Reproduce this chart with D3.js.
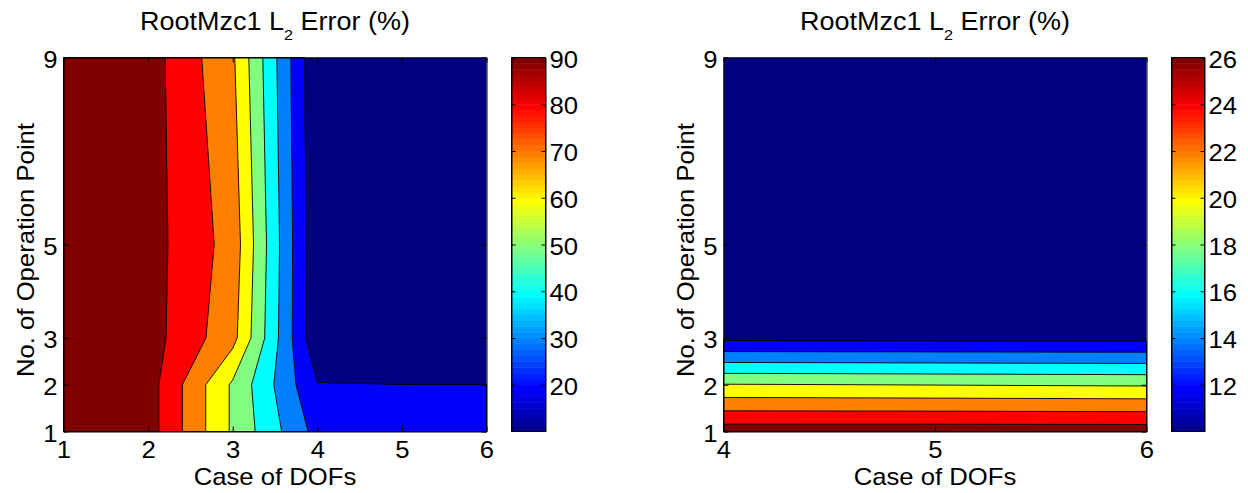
<!DOCTYPE html>
<html><head><meta charset="utf-8">
<script src="https://cdn.jsdelivr.net/npm/d3@7"></script>
<style>
body{margin:0;background:#fff}
svg text{font-family:"Liberation Sans", Arial, sans-serif; fill:#000}
</style>
</head><body>
<svg id="c" width="1248" height="493"></svg>
<script>
// ---------------- data ----------------
const titleText = "RootMzc1 L";
const titleSub = "2";
const titleTail = " Error (%)";
const xLabel = "Case of DOFs";
const yLabel = "No. of Operation Point";

// left panel: error grid, rows = operation points, columns = DOF cases
const leftX = [1, 2, 3, 4, 5, 6];
const leftY = [1, 2, 3, 5, 9];
const leftZ = [
  [96.5, 94.6, 58.5, 26.5, 24.2, 23.6],
  [96.0, 94.6, 58.5, 20.4, 20.05, 20.02],
  [95.5, 94.5, 73.3, 11.7, 10.9, 10.6],
  [95.2, 94.3, 76.0, 11.0, 10.6, 10.4],
  [95.0, 94.7, 71.5, 11.1, 10.5, 10.3]
];
const leftLevels = [20, 30, 40, 50, 60, 70, 80, 90];
const leftCRange = [10, 90];
const leftCTicks = [20, 30, 40, 50, 60, 70, 80, 90];
const leftXTicks = [1, 2, 3, 4, 5, 6];
const leftYTicks = [1, 2, 3, 5, 9];

// right panel
const rightX = [4, 5, 6];
const rightY = [1, 2, 3, 5, 9];
const rightZ = [
  [27.1, 27.12, 27.1],
  [20.1, 19.95, 19.8],
  [11.5, 11.48, 11.45],
  [10.5, 10.45, 10.4],
  [10.25, 10.22, 10.2]
];
const rightLevels = [12, 14, 16, 18, 20, 22, 24, 26];
const rightCRange = [10, 26];
const rightCTicks = [12, 14, 16, 18, 20, 22, 24, 26];
const rightXTicks = [4, 5, 6];
const rightYTicks = [1, 2, 3, 5, 9];

// ---------------- drawing ----------------
const SX = 1.07, FS = 24;
const TOP = 57.5, BOTTOM = 431.5;
const svg = d3.select('#c');

function jet(t) {
  const c = v => Math.max(0, Math.min(1, v));
  return d3.rgb(255 * c(1.5 - Math.abs(4 * t - 3)),
                255 * c(1.5 - Math.abs(4 * t - 2)),
                255 * c(1.5 - Math.abs(4 * t - 1))).toString();
}

function styleAxis(sel) {
  sel.attr('font-size', FS).attr('font-family', '"Liberation Sans", Arial, sans-serif');
  sel.selectAll('.domain').attr('stroke', '#000').attr('stroke-width', 1);
  sel.selectAll('.tick line').attr('stroke', '#000').attr('stroke-width', 1);
  sel.selectAll('text').attr('fill', '#000');
}

function panel(p) {
  const g = svg.append('g');
  const x = d3.scaleLinear().domain(d3.extent(p.xs)).range([p.left, p.right]);
  const y = d3.scaleLinear().domain(d3.extent(p.ys)).range([BOTTOM, TOP]);
  const color = d3.scaleSequential(jet).domain(p.cRange);
  const gx = d3.scaleLinear().domain(d3.range(p.xs.length)).range(p.xs).clamp(true);
  const gy = d3.scaleLinear().domain(d3.range(p.ys.length)).range(p.ys).clamp(true);
  const proj = d3.geoTransform({
    point: function (a, b) { this.stream.point(x(gx(a - 0.5)), y(gy(b - 0.5))); }
  });
  const path = d3.geoPath(proj);
  const cont = d3.contours().size([p.xs.length, p.ys.length]).thresholds(p.levels)(p.z.flat());

  g.append('rect').attr('x', p.left).attr('y', TOP)
    .attr('width', p.right - p.left).attr('height', BOTTOM - TOP)
    .attr('fill', color(p.cRange[0]));
  g.selectAll('path.band').data(cont).join('path').attr('class', 'band')
    .attr('d', d => path(d) || '')
    .attr('fill', d => color(d.value))
    .attr('stroke', '#000').attr('stroke-width', 0.9).attr('stroke-linejoin', 'round');

  // axes (ticks inside, box)
  const fmt = d3.format('d');
  const bx = g.append('g').attr('transform', `translate(0,${BOTTOM})`)
    .call(d3.axisBottom(x).tickValues(p.xTicks).tickSizeInner(-5).tickSizeOuter(0).tickPadding(9).tickFormat(fmt));
  styleAxis(bx);
  bx.selectAll('text').attr('transform', `scale(${SX},1)`);
  const tx = g.append('g').attr('transform', `translate(0,${TOP})`)
    .call(d3.axisTop(x).tickValues(p.xTicks).tickSizeInner(-5).tickSizeOuter(0).tickFormat(''));
  styleAxis(tx);
  const ly = g.append('g').attr('transform', `translate(${p.left},0)`)
    .call(d3.axisLeft(y).tickValues(p.yTicks).tickSizeInner(-5).tickSizeOuter(0).tickPadding(6).tickFormat(fmt));
  styleAxis(ly);
  ly.selectAll('text').attr('dy', '0.4em').attr('transform', `scale(${SX},1)`).attr('x', -6 / SX);
  const ry = g.append('g').attr('transform', `translate(${p.right},0)`)
    .call(d3.axisRight(y).tickValues(p.yTicks).tickSizeInner(-5).tickSizeOuter(0).tickFormat(''));
  styleAxis(ry);

  // title
  const cx = (p.left + p.right) / 2;
  const t = g.append('text').attr('transform', `translate(${cx},29.5) scale(1.08,1)`)
    .attr('text-anchor', 'middle').attr('font-size', 25);
  t.append('tspan').text(titleText);
  t.append('tspan').attr('font-size', 15).attr('dy', 10).text(titleSub);
  t.append('tspan').attr('dy', -10).text(titleTail);

  // axis labels
  g.append('text').attr('transform', `translate(${cx},485) scale(${SX},1)`)
    .attr('text-anchor', 'middle').attr('font-size', FS).text(xLabel);
  g.append('text').attr('transform', `translate(${p.left - 30},250) rotate(-90) scale(${SX},1)`)
    .attr('text-anchor', 'middle').attr('font-size', FS).text(yLabel);

  // colorbar
  const cy = d3.scaleLinear().domain(p.cRange).range([BOTTOM, TOP]);
  const nC = 64;
  const span = p.cRange[1] - p.cRange[0];
  const slices = d3.range(nC).map(i => ({
    v0: p.cRange[0] + span * i / nC,
    v1: p.cRange[0] + span * (i + 1) / nC,
    t: (i + 1) / nC
  }));
  g.selectAll('rect.cb').data(slices).join('rect').attr('class', 'cb')
    .attr('x', p.cbLeft).attr('width', p.cbRight - p.cbLeft)
    .attr('y', d => cy(d.v1)).attr('height', d => cy(d.v0) - cy(d.v1) + 0.5)
    .attr('fill', d => jet(d.t));
  g.append('rect').attr('x', p.cbLeft).attr('y', TOP)
    .attr('width', p.cbRight - p.cbLeft).attr('height', BOTTOM - TOP)
    .attr('fill', 'none').attr('stroke', '#000').attr('stroke-width', 1);
  const cr = g.append('g').attr('transform', `translate(${p.cbRight},0)`)
    .call(d3.axisRight(cy).tickValues(p.cTicks).tickSizeInner(-4).tickSizeOuter(0).tickPadding(4).tickFormat(fmt));
  styleAxis(cr);
  cr.selectAll('text').attr('dy', '0.4em').attr('transform', `scale(${SX},1)`).attr('x', 4 / SX);
  const cl = g.append('g').attr('transform', `translate(${p.cbLeft},0)`)
    .call(d3.axisLeft(cy).tickValues(p.cTicks).tickSizeInner(-4).tickSizeOuter(0).tickFormat(''));
  styleAxis(cl);
}

panel({
  xs: leftX, ys: leftY, z: leftZ, levels: leftLevels, cRange: leftCRange,
  cTicks: leftCTicks, xTicks: leftXTicks, yTicks: leftYTicks,
  left: 63.5, right: 486.5, cbLeft: 511.5, cbRight: 545.5
});
panel({
  xs: rightX, ys: rightY, z: rightZ, levels: rightLevels, cRange: rightCRange,
  cTicks: rightCTicks, xTicks: rightXTicks, yTicks: rightYTicks,
  left: 723.5, right: 1146.5, cbLeft: 1171.5, cbRight: 1204.5
});
</script>
</body></html>
